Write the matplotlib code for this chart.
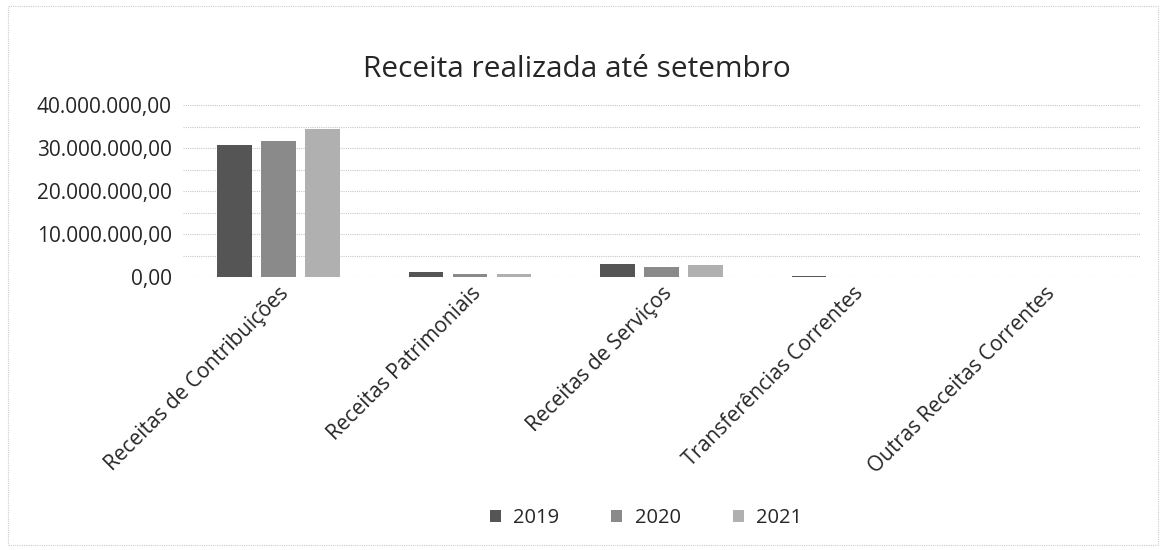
import matplotlib
matplotlib.use("Agg")
import matplotlib.pyplot as plt
import numpy as np
from matplotlib.patches import Rectangle
from matplotlib.ticker import MultipleLocator, FuncFormatter

categories = ["Receitas de Contribuições", "Receitas Patrimoniais", "Receitas de Serviços",
              "Transferências Correntes", "Outras Receitas Correntes"]
years = ["2019", "2020", "2021"]
v2019 = [30600000, 1200000, 3000000, 200000, 80000]
v2020 = [31600000, 700000, 2300000, 0, 30000]
v2021 = [34400000, 800000, 2900000, 0, 30000]
colors = ["#555555", "#8a8a8a", "#b0b0b0"]

plt.rcParams['font.family'] = ['Open Sans', 'DejaVu Sans']
tc = '#262626'

fig = plt.figure(figsize=(11.68, 5.5), dpi=100)
ax = fig.add_axes([183/1168, 1-277/550, (1140-183)/1168, (277-105)/550])

x = np.arange(len(categories))
w = 0.18
step = 0.23
for i, (vals, c, y) in enumerate(zip([v2019, v2020, v2021], colors, years)):
    ax.bar(x + (i-1)*step, vals, width=w, color=c, label=y, zorder=3)

ax.set_xlim(-0.5, len(categories)-0.5)
ax.set_ylim(0, 40000000)
ax.yaxis.set_major_locator(MultipleLocator(10000000))
ax.yaxis.set_minor_locator(MultipleLocator(5000000))

def fmt(v, pos):
    s = f"{v:,.2f}"
    return s.replace(",", "X").replace(".", ",").replace("X", ".")
ax.yaxis.set_major_formatter(FuncFormatter(fmt))
ax.grid(axis='y', which='both', color='#c8c8c8', linestyle=(0, (1, 1)), linewidth=0.8, zorder=0)
for s in ax.spines.values():
    s.set_visible(False)
ax.tick_params(axis='both', which='both', length=0)
ax.tick_params(axis='y', labelsize=15, labelcolor=tc, pad=8)
ax.set_xticks(x)
ax.set_xticklabels(categories, rotation=45, ha='right', rotation_mode='anchor',
                   fontsize=15, color=tc)
ax.tick_params(axis='x', pad=4)

fig.text(577/1168, 1-70/550, "Receita realizada até setembro", ha='center', va='center',
         fontsize=21.5, color=tc)

leg = fig.legend(loc='center', bbox_to_anchor=(646/1168, 1-518/550), ncol=3, frameon=False,
                 fontsize=14.5, handlelength=0.55, handleheight=0.55, columnspacing=2.6,
                 handletextpad=0.6, labelcolor=tc)

fig.patches.append(Rectangle((8/1168, 0.01), 1150/1168, 0.98, transform=fig.transFigure,
                             fill=False, edgecolor='#cccccc', linestyle=(0, (1, 1)), linewidth=0.8))

fig.savefig("out.png", dpi=100, facecolor='white')
